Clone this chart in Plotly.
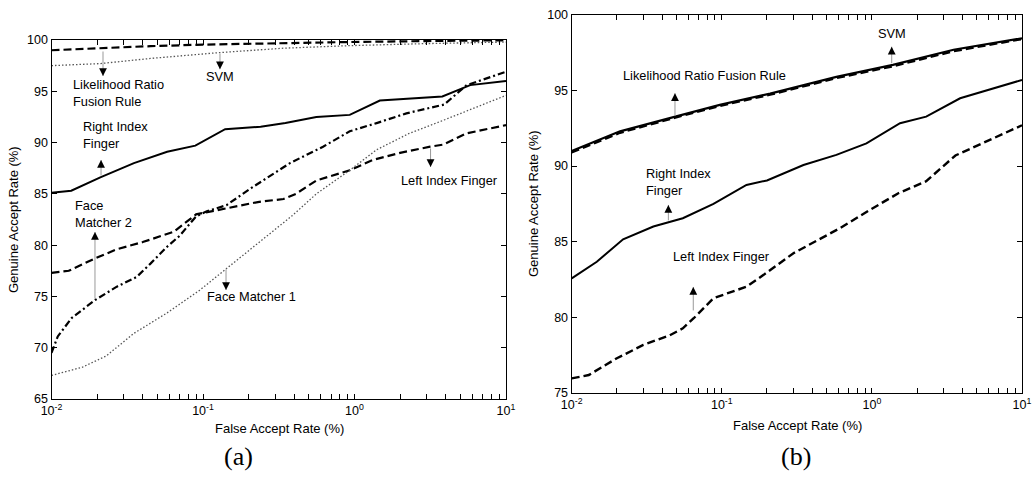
import numpy as np
import plotly.graph_objects as go

# ---------------- data: panel (a) ----------------
a_lr_far = [0.01, 0.02, 0.045, 0.1, 0.2, 0.9, 3, 10]
a_lr_gar = [99.0, 99.2, 99.4, 99.55, 99.65, 99.8, 99.9, 99.97]

a_svm_far = [0.01, 0.021, 0.045, 0.123, 0.34, 0.93, 3, 10]
a_svm_gar = [97.5, 97.7, 98.2, 98.75, 99.2, 99.45, 99.65, 99.8]

a_rif_far = [0.01, 0.0135, 0.021, 0.035, 0.058, 0.089, 0.14, 0.24, 0.35, 0.56, 0.93, 1.47, 3.8, 5.8, 10]
a_rif_gar = [85.1, 85.3, 86.6, 88.0, 89.1, 89.7, 91.3, 91.55, 91.9, 92.5, 92.7, 94.1, 94.5, 95.6, 96.0]

a_fm2_far = [0.01, 0.011, 0.0136, 0.0194, 0.027, 0.0365, 0.045, 0.058, 0.07, 0.09, 0.106, 0.143,
             0.21, 0.375, 0.62, 0.93, 1.4, 2.2, 3.9, 5.5, 10]
a_fm2_gar = [69.5, 71.1, 72.9, 74.65, 75.95, 76.9, 78.2, 79.85, 80.9, 82.8, 83.3, 83.9,
             85.6, 88.0, 89.6, 91.1, 91.9, 92.85, 93.7, 95.6, 96.9]

a_lif_far = [0.01, 0.013, 0.019, 0.027, 0.04, 0.064, 0.09, 0.14, 0.23, 0.34, 0.41, 0.56, 0.93,
             1.32, 2.0, 3.16, 3.86, 5.5, 10]
a_lif_gar = [77.3, 77.5, 78.65, 79.6, 80.3, 81.3, 83.0, 83.6, 84.2, 84.5, 85.0, 86.3, 87.3,
             88.3, 89.0, 89.6, 89.8, 90.9, 91.7]

a_fm1_far = [0.01, 0.016, 0.023, 0.035, 0.058, 0.095, 0.16, 0.24, 0.39, 0.56, 0.93, 1.4, 2.3, 3.9, 6.4, 10]
a_fm1_gar = [67.3, 68.1, 69.2, 71.4, 73.4, 75.6, 78.3, 80.4, 82.9, 85.0, 87.3, 89.3, 90.9, 92.2, 93.5, 94.6]

# ---------------- data: panel (b) ----------------
b_lr_far = [0.01, 0.021, 0.049, 0.097, 0.21, 0.58, 1.38, 3.5, 10]
b_lr_gar = [91.0, 92.3, 93.27, 94.05, 94.8, 95.9, 96.7, 97.7, 98.46]

b_svm_far = [0.01, 0.021, 0.049, 0.097, 0.21, 0.58, 1.38, 3.5, 10]
b_svm_gar = [90.9, 92.2, 93.2, 93.98, 94.72, 95.82, 96.6, 97.6, 98.4]

b_rif_far = [0.01, 0.0147, 0.022, 0.035, 0.055, 0.088, 0.146, 0.2, 0.35, 0.58, 0.92, 1.54, 2.3, 3.87, 10]
b_rif_gar = [82.57, 83.67, 85.15, 86.0, 86.55, 87.5, 88.75, 89.05, 90.07, 90.74, 91.5, 92.84, 93.27, 94.49, 95.7]

b_lif_far = [0.01, 0.013, 0.02, 0.03, 0.045, 0.055, 0.065, 0.088, 0.146, 0.19, 0.3, 0.61, 0.97, 1.5, 2.3, 3.6, 10]
b_lif_gar = [75.95, 76.17, 77.28, 78.16, 78.8, 79.26, 79.93, 81.25, 82.02, 82.8, 84.23, 85.88, 87.1, 88.2, 89.0, 90.7, 92.7]

# tick definitions
decades = [-2, -1, 0]
x_tickvals = [k * 10.0 ** e for e in decades for k in range(1, 10)] + [10.0]
x_ticktext = [("10<sup>%d</sup>" % e if k == 1 else "") for e in decades for k in range(1, 10)] + ["10<sup>1</sup>"]
a_yticks = [65, 70, 75, 80, 85, 90, 95, 100]
b_yticks = [75, 80, 85, 90, 95, 100]

FONT = "Liberation Sans, Arial, sans-serif"
SERIF = "Liberation Serif, Times New Roman, serif"
DASH = "8px,4px"
DASHDOT = "7px,3px,2px,3px"
DOT = "1.5px,2px"

fig = go.Figure()

def line(xs, ys, dash, width, color, xa, ya, name):
    fig.add_trace(go.Scatter(x=xs, y=ys, mode="lines", name=name, showlegend=False,
                             line=dict(color=color, width=width, dash=dash),
                             xaxis=xa, yaxis=ya))

# panel (a)
line(a_lr_far, a_lr_gar, DASH, 2.2, "black", "x", "y", "Likelihood Ratio Fusion Rule")
line(a_svm_far, a_svm_gar, DOT, 1.3, "#555", "x", "y", "SVM")
line(a_rif_far, a_rif_gar, "solid", 2, "black", "x", "y", "Right Index Finger")
line(a_fm2_far, a_fm2_gar, DASHDOT, 2.2, "black", "x", "y", "Face Matcher 2")
line(a_lif_far, a_lif_gar, DASH, 2.2, "black", "x", "y", "Left Index Finger")
line(a_fm1_far, a_fm1_gar, DOT, 1.3, "#555", "x", "y", "Face Matcher 1")

# panel (b)
line(b_lr_far, b_lr_gar, "solid", 2.2, "black", "x2", "y2", "Likelihood Ratio Fusion Rule")
line(b_svm_far, b_svm_gar, DASH, 2.2, "black", "x2", "y2", "SVM")
line(b_rif_far, b_rif_gar, "solid", 2, "black", "x2", "y2", "Right Index Finger")
line(b_lif_far, b_lif_gar, DASH, 2.4, "black", "x2", "y2", "Left Index Finger")

xaxis_common = dict(type="log", range=[-2, 1], tickvals=x_tickvals, ticktext=x_ticktext,
                    ticks="inside", ticklen=5, tickcolor="black", showline=True,
                    linecolor="black", linewidth=1.3, mirror="ticks", showgrid=False,
                    zeroline=False, automargin=False,
                    tickfont=dict(family=FONT, size=12.5, color="black"))
yaxis_common = dict(ticks="inside", ticklen=5, tickcolor="black", showline=True,
                    linecolor="black", linewidth=1.3, mirror="ticks", showgrid=False,
                    zeroline=False, automargin=False,
                    tickfont=dict(family=FONT, size=12.5, color="black"))

W, H = 1032, 482
fig.update_layout(
    width=W, height=H, margin=dict(l=0, r=0, t=0, b=0, autoexpand=False),
    paper_bgcolor="white", plot_bgcolor="white",
    xaxis=dict(xaxis_common, domain=[51.5 / W, 506 / W], anchor="y"),
    yaxis=dict(yaxis_common, domain=[1 - 399 / H, 1 - 40 / H], range=[65, 100],
               tickvals=a_yticks, anchor="x"),
    xaxis2=dict(xaxis_common, domain=[571.7 / W, 1022 / W], anchor="y2"),
    yaxis2=dict(yaxis_common, domain=[1 - 392.7 / H, 1 - 15 / H], range=[75, 100],
                tickvals=b_yticks, anchor="x2"),
)

L = np.log10
ann = []

def text(x, y, t, xa, ya, xanchor="center", align="center", size=12.8):
    ann.append(dict(x=L(x), y=y, xref=xa, yref=ya, text=t, showarrow=False,
                    xanchor=xanchor, yanchor="middle", align=align,
                    font=dict(family=FONT, size=size, color="black")))

def arrow(x, y, ay, xa, ya):
    # thin grey shaft
    ann.append(dict(x=L(x), y=y, xref=xa, yref=ya, text="", showarrow=True,
                    ax=0, ay=ay, arrowhead=0, arrowwidth=1, arrowcolor="#999"))
    # black head
    ann.append(dict(x=L(x), y=y, xref=xa, yref=ya, text="", showarrow=True,
                    ax=0, ay=(7 if ay > 0 else -7), arrowhead=2, arrowsize=1.3,
                    arrowwidth=1.2, arrowcolor="black"))

# panel (a) labels
text(10 ** -1.871, 94.83, "Likelihood Ratio<br>Fusion Rule", "x", "y", "left", "left")
arrow(10 ** -1.66, 96.49, -26, "x", "y")
text(10 ** -0.888, 96.49, "SVM", "x", "y")
arrow(10 ** -0.888, 97.15, -17, "x", "y")
text(10 ** -1.805, 90.74, "Right Index<br>Finger", "x", "y", "left", "left")
arrow(10 ** -1.673, 88.3, 17, "x", "y")
text(10 ** -1.858, 83.04, "Face<br>Matcher 2", "x", "y", "left", "left")
arrow(10 ** -1.713, 81.28, 68, "x", "y")
text(10 ** -0.683, 74.97, "Face Matcher 1", "x", "y")
arrow(10 ** -0.848, 75.63, -22, "x", "y")
text(10 ** 0.627, 86.35, "Left Index Finger", "x", "y")
arrow(10 ** 0.502, 87.62, -20, "x", "y")

# panel (b) labels
text(10 ** -1.112, 95.97, "Likelihood Ratio Fusion Rule", "x2", "y2")
arrow(10 ** -1.312, 94.82, 24, "x2", "y2")
text(10 ** 0.132, 98.79, "SVM", "x2", "y2")
arrow(10 ** 0.132, 97.9, 18, "x2", "y2")
text(10 ** -1.516, 88.97, "Right Index<br>Finger", "x2", "y2", "left", "left")
arrow(10 ** -1.356, 87.43, 17, "x2", "y2")
text(10 ** -0.999, 84.0, "Left Index Finger", "x2", "y2")
arrow(10 ** -1.19, 82.0, 25, "x2", "y2")

# axis titles and panel captions (paper coordinates)
def ptext(px, py, t, size, family=FONT, angle=0):
    ann.append(dict(x=px / W, y=1 - py / H, xref="paper", yref="paper", text=t,
                    showarrow=False, xanchor="center", yanchor="middle", textangle=angle,
                    font=dict(family=family, size=size, color="black")))

ptext(279, 428, "False Accept Rate (%)", 13)
ptext(797, 425, "False Accept Rate (%)", 13)
ptext(14, 220, "Genuine Accept Rate (%)", 13, angle=-90)
ptext(533, 204, "Genuine Accept Rate (%)", 13, angle=-90)
ptext(238, 456, "(a)", 26, family=SERIF)
ptext(796, 456, "(b)", 26, family=SERIF)

fig.update_layout(annotations=ann)
fig.write_html("out.html")
